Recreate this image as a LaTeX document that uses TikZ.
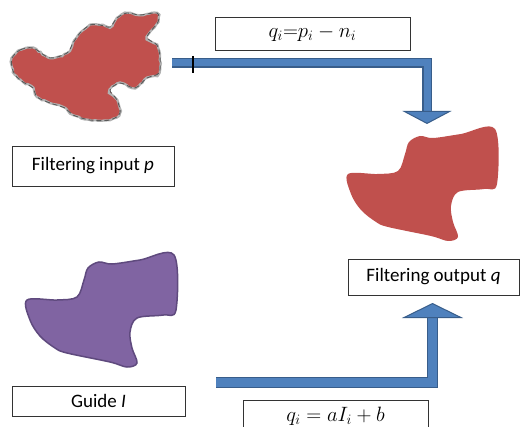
\documentclass[tikz,border=0pt]{standalone}
\usepackage{fontspec}
\setmainfont{Carlito}
\usetikzlibrary{arrows.meta,decorations.pathmorphing}

\definecolor{blobred}{HTML}{C0504D}
\definecolor{blobpurple}{HTML}{8064A2}
\definecolor{purpleedge}{HTML}{5F4A7E}
\definecolor{arrowblue}{HTML}{4F81BD}
\definecolor{arrowedge}{HTML}{385D8A}

\tikzset{
  textbox/.style={draw=black!80, line width=0.8pt, inner sep=0pt, font=\fontsize{19}{22}\selectfont},
  eqbox/.style={draw=black!80, line width=0.8pt, inner sep=0pt, font=\fontsize{20}{22}\selectfont},
  flowarrow/.style={draw=arrowedge, double=arrowblue, line width=1.5pt},
  blob/.pic={
    \path[pic actions] plot[smooth cycle, tension=0.55] coordinates {
      (27,300) (57,300) (77,297) (84,280) (88,268) (99,262) (112,264)
      (140,260) (174,255) (176,310) (163,315) (137,318) (130,332)
      (132,348) (137,363) (127,367) (110,362) (67,353) (55,348)
      (40,336) (30,320)};
  }
}

\begin{document}
\begin{tikzpicture}[x=1pt, y=-1pt]
  \clip (0,0) rectangle (521,427);

  % noisy input shape
  \fill[blobred] plot[smooth cycle, tension=0.5] coordinates {
    (12,58) (20,50) (33,48) (50,58) (67,53) (73,43) (80,33) (90,25)
    (100,25) (110,27) (117,18) (127,13) (140,15) (157,13) (158,22)
    (147,37) (157,45) (160,57) (159,73) (147,78) (135,88) (120,83)
    (110,90) (117,100) (120,113) (110,120) (90,120) (73,115) (65,108)
    (50,103) (37,97) (33,88) (23,82) (15,75) (12,67)};
  \draw[gray!60, line width=2.2pt, decorate,
        decoration={random steps, segment length=3pt, amplitude=0.7pt}]
    plot[smooth cycle, tension=0.5] coordinates {
    (12,58) (20,50) (33,48) (50,58) (67,53) (73,43) (80,33) (90,25)
    (100,25) (110,27) (117,18) (127,13) (140,15) (157,13) (158,22)
    (147,37) (157,45) (160,57) (159,73) (147,78) (135,88) (120,83)
    (110,90) (117,100) (120,113) (110,120) (90,120) (73,115) (65,108)
    (50,103) (37,97) (33,88) (23,82) (15,75) (12,67)};
  \draw[black!65, line width=0.9pt, dash pattern=on 5pt off 3pt]
    plot[smooth cycle, tension=0.5] coordinates {
    (12,58) (20,50) (33,48) (50,58) (67,53) (73,43) (80,33) (90,25)
    (100,25) (110,27) (117,18) (127,13) (140,15) (157,13) (158,22)
    (147,37) (157,45) (160,57) (159,73) (147,78) (135,88) (120,83)
    (110,90) (117,100) (120,113) (110,120) (90,120) (73,115) (65,108)
    (50,103) (37,97) (33,88) (23,82) (15,75) (12,67)};

  % guide and output shapes
  \pic[fill=blobpurple, draw=purpleedge, line width=1.5pt] (iblob) at (0,0) {blob};
  \pic[fill=blobred] (qblob) at (321,-126) {blob};

  % labels
  \node[textbox, minimum width=162pt, minimum height=40pt] (inbox) at (93,166) {Filtering input \textit{p}};
  \node[eqbox, minimum width=195pt, minimum height=33pt] (topeq) at (312.5,33.5) {$q_i{=}p_i - n_i$};
  \node[textbox, minimum width=171pt, minimum height=36pt] (outbox) at (433.5,277) {Filtering output \textit{q}};
  \node[textbox, minimum width=173pt, minimum height=30pt] (guidebox) at (98.5,401) {Guide \textit{I}};
  \node[eqbox, minimum width=185pt, minimum height=32pt] (boteq) at (335.5,416) {$q_i = aI_i + b$};

  % arrows
  \coordinate (pout) at (172,63);
  \coordinate (qin) at (427,124);
  \coordinate (iout) at (216,382.5);
  \coordinate (qup) at (432.5,303);
  \draw[flowarrow, double distance=7pt,
        -{Triangle[width=49pt, length=13pt, fill=arrowblue, color=arrowedge, line width=1pt]}]
    (pout) -| (qin);
  \draw[flowarrow, double distance=8.5pt,
        -{Triangle[width=61pt, length=15pt, fill=arrowblue, color=arrowedge, line width=1pt]}]
    (iout) -| (qup);
  \draw[black, line width=1.6pt] ([xshift=21pt]pout) ++(0,-7) -- ++(0,17);
\end{tikzpicture}
\end{document}
